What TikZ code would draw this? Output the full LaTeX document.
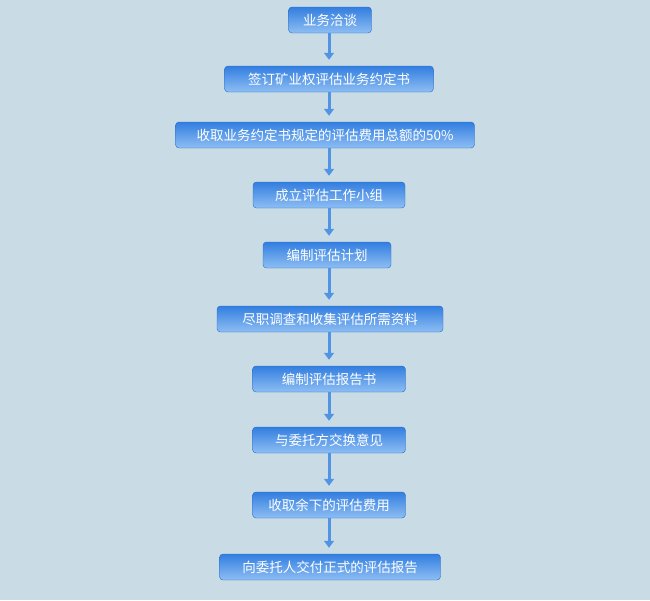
\documentclass[tikz,border=0pt]{standalone}
\usepackage{fontspec}
\setmainfont{Noto Sans CJK SC}
\usetikzlibrary{arrows.meta,positioning}
\definecolor{bgsky}{RGB}{201,220,230}
\definecolor{boxtop}{RGB}{50,126,224}
\definecolor{boxbot}{RGB}{142,190,243}
\definecolor{arrowblue}{RGB}{82,148,228}
\tikzset{
  >={Triangle[length=2.4mm,width=3.4mm]},
  stepbox/.style={rounded corners=3.5pt,top color=boxtop,bottom color=boxbot,
    draw=boxtop!85!black,line width=0.4pt,text=white,minimum height=26pt,
    minimum width=#1,inner sep=0pt,font=\fontsize{13.5}{15}\selectfont},
  flow/.style={->,line width=3pt,draw=arrowblue},
}
\begin{document}
\begin{tikzpicture}[x=1pt,y=-1pt]
  \fill[bgsky] (0,0) rectangle (650,600);
  % process steps
  \foreach \x/\y/\w/\t [count=\k] in {
      330/20/83/业务洽谈,
      329/79/209/签订矿业权评估业务约定书,
      325/135/299/收取业务约定书规定的评估费用总额的50\%,
      329/195/152/成立评估工作小组,
      327/255/128/编制评估计划,
      330/319/226/尽职调查和收集评估所需资料,
      329/379/153/编制评估报告书,
      329/440/153/与委托方交换意见,
      329/505/153/收取余下的评估费用,
      330/567/221/向委托人交付正式的评估报告}
    \node[stepbox=\w pt] (s\k) at (\x,\y) {\t};
  % arrows, all on the axis of s2
  \foreach \a [count=\b from 2] in {1,...,9}
    \draw[flow] (s2 |- s\a.south) -- ([yshift=6pt]s2 |- s\b.north);
\end{tikzpicture}
\end{document}
